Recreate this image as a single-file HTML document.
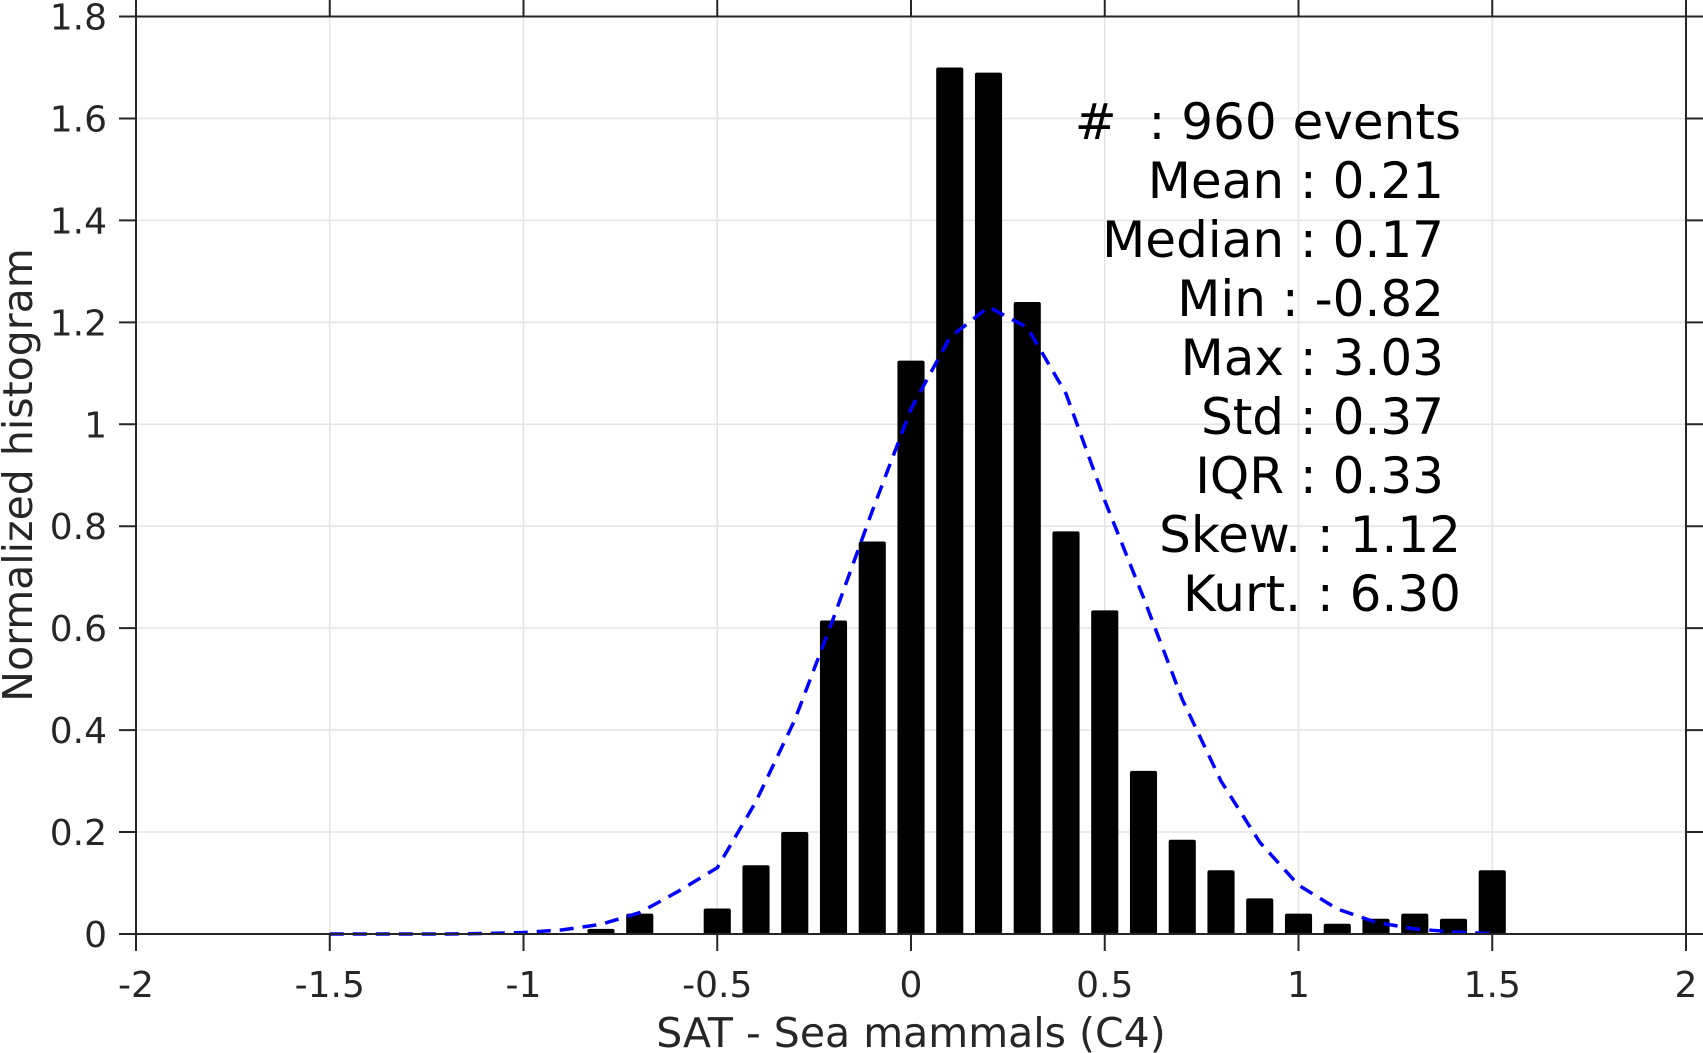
<!DOCTYPE html>
<html><head><meta charset="utf-8"><style>
html,body{margin:0;padding:0;background:#fff;}
svg{display:block;font-family:"DejaVu Sans","Liberation Sans",sans-serif;}
</style></head><body>
<svg id="chart" width="1703" height="1053" viewBox="0 0 1703 1053" xmlns="http://www.w3.org/2000/svg">
<rect x="0" y="0" width="1703" height="1053" fill="#fff"/>
<g id="grid"></g>
<g id="bars"></g>
<path id="fit" fill="none" stroke="#0000ff" stroke-width="3.5" stroke-dasharray="14,9"/>
<g id="axes"></g>
<text x="911" y="1047" text-anchor="middle" font-size="41" fill="#262626">SAT - Sea mammals (C4)</text>
<text transform="translate(32,475) rotate(-90)" text-anchor="middle" font-size="41" fill="#262626">Normalized histogram</text>
<g font-size="50" fill="#000" text-anchor="end">
<text x="1461" y="139">#&#160;&#160;: 960 events</text>
<text x="1444" y="198">Mean : 0.21</text>
<text x="1444" y="257">Median : 0.17</text>
<text x="1444" y="316">Min : -0.82</text>
<text x="1444" y="375">Max : 3.03</text>
<text x="1444" y="434">Std : 0.37</text>
<text x="1444" y="493">IQR : 0.33</text>
<text x="1461" y="552">Skew. : 1.12</text>
<text x="1461" y="611">Kurt. : 6.30</text>
</g>
</svg>
<script>
const binCenters = [-0.8,-0.7,-0.6,-0.5,-0.4,-0.3,-0.2,-0.1,0,0.1,0.2,0.3,0.4,0.5,0.6,0.7,0.8,0.9,1.0,1.1,1.2,1.3,1.4,1.5];
const binValues  = [0.01,0.04,0,0.05,0.135,0.2,0.615,0.77,1.125,1.7,1.69,1.24,0.79,0.635,0.32,0.185,0.125,0.07,0.04,0.02,0.03,0.04,0.03,0.125];
const fitX = [-1.5,-1.4,-1.3,-1.2,-1.1,-1.0,-0.9,-0.8,-0.7,-0.6,-0.5,-0.4,-0.3,-0.2,-0.1,0,0.1,0.2,0.3,0.4,0.5,0.6,0.7,0.8,0.9,1.0,1.1,1.2,1.3,1.4,1.5];
const fitY = [0,0,0,0,0.001,0.003,0.008,0.019,0.042,0.084,0.13,0.26,0.42,0.62,0.83,1.03,1.17,1.23,1.19,1.06,0.85,0.66,0.46,0.3,0.18,0.096,0.049,0.023,0.01,0.004,0.001];
const xTicks = [-2,-1.5,-1,-0.5,0,0.5,1,1.5,2];
const xTickLabels = ["-2","-1.5","-1","-0.5","0","0.5","1","1.5","2"];
const yTicks = [0,0.2,0.4,0.6,0.8,1,1.2,1.4,1.6,1.8];
const yTickLabels = ["0","0.2","0.4","0.6","0.8","1","1.2","1.4","1.6","1.8"];

const L=136,R=1686,T=16.5,B=934;
const xs=v=>L+(v+2)/4*(R-L);
const ys=v=>B-v/1.8*(B-T);
const NS="http://www.w3.org/2000/svg";
function mk(tag,attrs,parent){const e=document.createElementNS(NS,tag);for(const k in attrs)e.setAttribute(k,attrs[k]);parent.appendChild(e);return e;}
const grid=document.getElementById('grid'),bars=document.getElementById('bars'),axes=document.getElementById('axes');
xTicks.forEach((t,i)=>{
  const g=mk('line',{x1:xs(t),x2:xs(t),y1:T,y2:B,stroke:'#e3e3e3','stroke-width':1.5},grid);
  
  
  const a=mk('line',{x1:xs(t),x2:xs(t),y1:B,y2:B+17,stroke:'#262626','stroke-width':2},axes);
  
  
  const b=mk('line',{x1:xs(t),x2:xs(t),y1:T,y2:T-17,stroke:'#262626','stroke-width':2},axes);
  
  
  const tx=mk('text',{x:xs(t),y:997,'text-anchor':'middle','font-size':36,fill:'#262626'},axes);
  tx.textContent=xTickLabels[i];
  
  
});
yTicks.forEach((t,i)=>{
  const g=mk('line',{x1:L,x2:R,y1:ys(t),y2:ys(t),stroke:'#e3e3e3','stroke-width':1.5},grid);
  
  
  const a=mk('line',{x1:L-17,x2:L,y1:ys(t),y2:ys(t),stroke:'#262626','stroke-width':2},axes);
  
  
  const b=mk('line',{x1:R,x2:R+17,y1:ys(t),y2:ys(t),stroke:'#262626','stroke-width':2},axes);
  
  
  const tx=mk('text',{x:107,y:ys(t)+13,'text-anchor':'end','font-size':36,fill:'#262626'},axes);
  tx.textContent=yTickLabels[i];
  
  
});
const bw=(xs(0.07)-xs(0));
binCenters.forEach((c,i)=>{
  if(binValues[i]<=0)return;
  const r=mk('rect',{x:xs(c)-bw/2,y:ys(binValues[i]),width:bw,height:B-ys(binValues[i]),rx:2,fill:'#000'},bars);
  
  
});
document.getElementById('fit').setAttribute('d',fitX.map((x,i)=>(i?'L':'M')+xs(x).toFixed(1)+','+ys(fitY[i]).toFixed(1)).join(' '));
const box=mk('rect',{x:L,y:T,width:R-L,height:B-T,fill:'none',stroke:'#262626','stroke-width':2},axes);


</script>
</body></html>
